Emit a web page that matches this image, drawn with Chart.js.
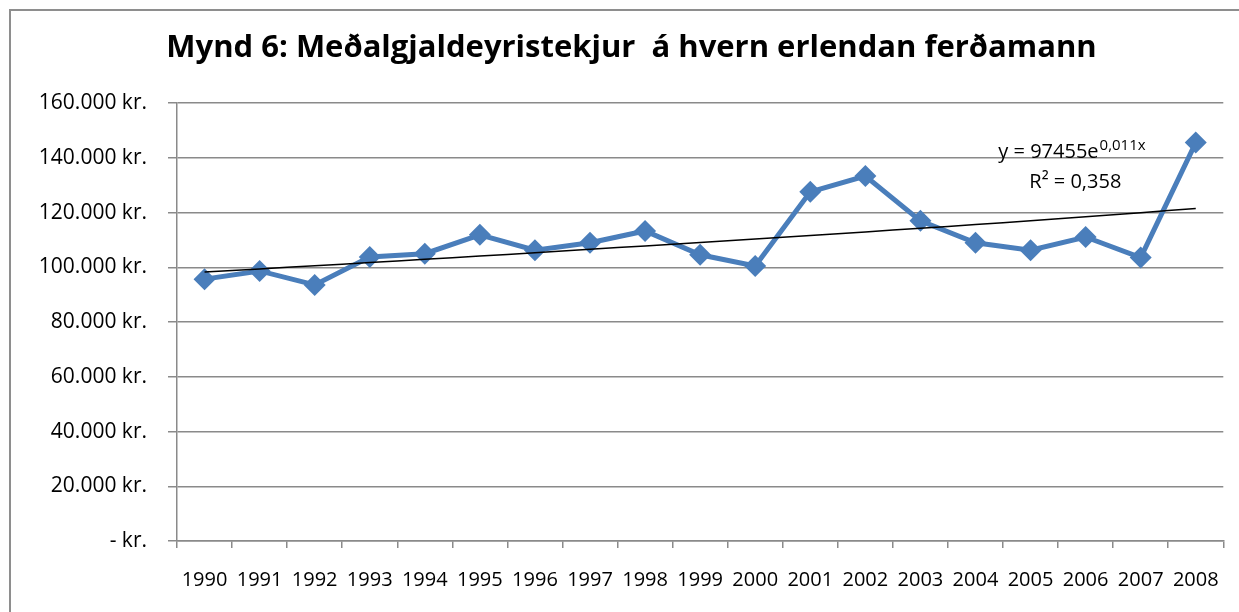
<!DOCTYPE html>
<html>
<head>
<meta charset="utf-8">
<script src="https://cdn.jsdelivr.net/npm/chart.js@4/dist/chart.umd.min.js"></script>
<style>
  html, body { margin: 0; padding: 0; background: #fff; overflow: hidden; }
  #wrap { position: relative; width: 1239px; height: 612px; }
  #frame { position: absolute; left: 9px; top: 9px; width: 1300px; height: 700px;
           border-left: 2px solid #8e8e8e; border-top: 2px solid #8e8e8e; }
  canvas { position: absolute; left: 0; top: 0; }
</style>
</head>
<body>
<div id="wrap">
  <div id="frame"></div>
  <canvas id="myChart" width="1239" height="612"></canvas>
</div>
<script>
// years on the category axis
var years = ['1990','1991','1992','1993','1994','1995','1996','1997','1998','1999',
             '2000','2001','2002','2003','2004','2005','2006','2007','2008'];
// average foreign currency income per tourist (kr.)
var income = [95700, 98700, 93600, 103800, 105000, 111900, 106300, 109000, 113300, 104600,
              100500, 127600, 133400, 117000, 109000, 106300, 111100, 103600, 145600];
// exponential trendline as drawn in the chart
var trend = [98300, 99450, 100600, 101750, 102950, 104150, 105350, 106600, 107850, 109100,
             110350, 111650, 112950, 114300, 115650, 117050, 118500, 120000, 121500];
var yTicks = [0, 20000, 40000, 60000, 80000, 100000, 120000, 140000, 160000];

var titleText = 'Mynd 6: Meðalgjaldeyristekjur  á hvern erlendan ferðamann';
var eqText = 'y = 97455e', eqSup = '0,011x', r2Text = 'R² = 0,358';

function kr(v) {
  if (v === 0) return '- kr.';
  return String(v).replace(/\B(?=(\d{3})+(?!\d))/g, '.') + ' kr.';
}

var FONT = '"Open Sans", "Liberation Sans", sans-serif';
var GRID = '#8a8a8a';

var trendLabel = {
  id: 'trendLabel',
  afterDatasetsDraw: function(chart) {
    var ctx = chart.ctx, a = chart.chartArea;
    ctx.save();
    ctx.fillStyle = '#000';
    ctx.textBaseline = 'alphabetic';
    ctx.font = '20px ' + FONT;
    var x0 = a.right - 225;
    ctx.fillText(eqText, x0, 158);
    var w = ctx.measureText(eqText).width;
    ctx.font = '15px ' + FONT;
    ctx.fillText(eqSup, x0 + w + 1, 150);
    ctx.font = '20px ' + FONT;
    ctx.fillText(r2Text, x0 + 31, 188);
    ctx.restore();
  }
};

var ctx = document.getElementById('myChart').getContext('2d');
var myChart = new Chart(ctx, {
  type: 'line',
  data: {
    labels: years,
    datasets: [{
      label: 'Meðalgjaldeyristekjur',
      data: income,
      borderColor: '#4a7ebb',
      backgroundColor: '#4a7ebb',
      borderWidth: 5,
      pointStyle: 'rectRot',
      pointRadius: 11,
      pointHoverRadius: 11,
      pointBorderWidth: 0,
      tension: 0,
      order: 1
    }, {
      label: 'Trend',
      data: trend,
      borderColor: '#000',
      borderWidth: 1.5,
      pointRadius: 0,
      tension: 0.4,
      order: 0
    }]
  },
  options: {
    responsive: false,
    animation: false,
    events: [],
    layout: { padding: { left: 38, right: 14, top: 30, bottom: 0 } },
    plugins: {
      legend: { display: false },
      tooltip: { enabled: false },
      title: {
        display: true,
        text: titleText,
        color: '#000',
        font: { family: FONT, size: 31, weight: 'bold' },
        padding: { top: 0, bottom: 36 }
      }
    },
    scales: {
      x: {
        type: 'category',
        offset: true,
        grid: { display: true, drawOnChartArea: false, drawTicks: true, tickLength: 7,
                offset: true, color: GRID, lineWidth: 1.5 },
        border: { display: true, color: GRID, width: 1.5 },
        ticks: { color: '#000', font: { family: FONT, size: 20 }, padding: 20,
                 maxRotation: 0, autoSkip: false }
      },
      y: {
        min: 0,
        max: 160000,
        afterBuildTicks: function(scale) {
          scale.ticks = yTicks.map(function(v) { return { value: v }; });
        },
        afterFit: function(scale) { scale.width = 139; },
        grid: { color: GRID, lineWidth: 1.5, tickLength: 9 },
        border: { display: true, color: GRID, width: 1.5 },
        ticks: { color: '#000', font: { family: FONT, size: 21 }, padding: 21,
                 callback: function(v) { return kr(v); } }
      }
    }
  },
  plugins: [trendLabel]
});
</script>
</body>
</html>
